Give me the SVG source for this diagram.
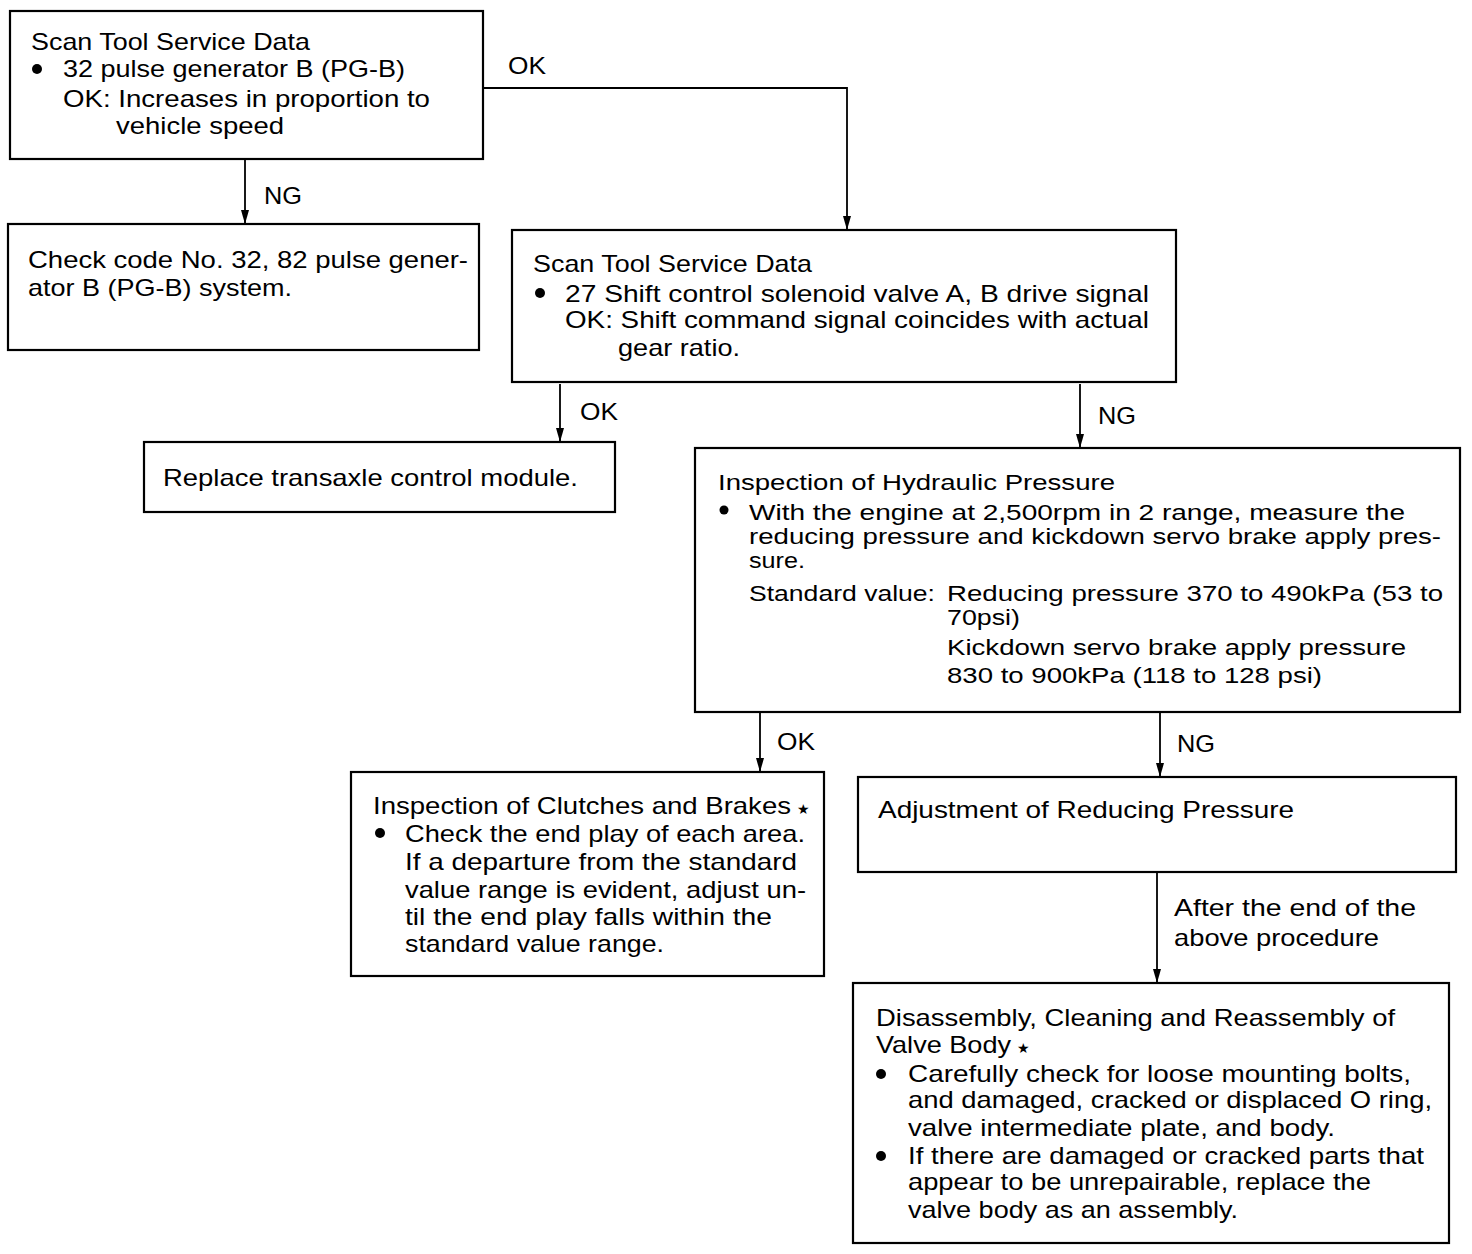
<svg xmlns="http://www.w3.org/2000/svg" width="1472" height="1254" viewBox="0 0 1472 1254">
<defs>
<marker id="ah" viewBox="0 0 14 8" refX="14" refY="4" markerWidth="14" markerHeight="8" markerUnits="userSpaceOnUse" orient="auto">
<path d="M0,0 L14,4 L0,8 Z" fill="#000"/>
</marker>
<style>
.box{fill:#fff;stroke:#000;stroke-width:2.2}
.ln{fill:none;stroke:#000;stroke-width:1.8}
.bul{fill:#000}
text{font-family:"Liberation Sans",Arial,"DejaVu Sans",sans-serif;font-size:24px;fill:#000}
.sm{font-size:21.5px}
.st{font-family:"DejaVu Sans",sans-serif;font-size:14px}
</style>
</defs>
<rect width="1472" height="1254" fill="#fff"/>
<g id="connectors">
<path class="ln" d="M245,160 V224" marker-end="url(#ah)"/>
<path class="ln" d="M483,88 H847 V230" marker-end="url(#ah)"/>
<path class="ln" d="M560,384 V442" marker-end="url(#ah)"/>
<path class="ln" d="M1080,384 V448" marker-end="url(#ah)"/>
<path class="ln" d="M760,712 V772" marker-end="url(#ah)"/>
<path class="ln" d="M1160,712 V777" marker-end="url(#ah)"/>
<path class="ln" d="M1157,872 V983" marker-end="url(#ah)"/>
<text x="264" y="204" textLength="38" lengthAdjust="spacingAndGlyphs">NG</text>
<text x="508" y="74" textLength="38" lengthAdjust="spacingAndGlyphs">OK</text>
<text x="580" y="420" textLength="38" lengthAdjust="spacingAndGlyphs">OK</text>
<text x="1098" y="424" textLength="38" lengthAdjust="spacingAndGlyphs">NG</text>
<text x="777" y="750" textLength="38" lengthAdjust="spacingAndGlyphs">OK</text>
<text x="1177" y="752" textLength="38" lengthAdjust="spacingAndGlyphs">NG</text>
<text x="1174" y="916" textLength="242" lengthAdjust="spacingAndGlyphs">After the end of the</text>
<text x="1174" y="946" textLength="205" lengthAdjust="spacingAndGlyphs">above procedure</text>
</g>
<g id="n1">
<rect class="box" x="10" y="11" width="473" height="148"/>
<text x="31" y="50" textLength="279" lengthAdjust="spacingAndGlyphs">Scan Tool Service Data</text>
<circle class="bul" cx="37" cy="69" r="5"/>
<text x="63" y="77" textLength="342" lengthAdjust="spacingAndGlyphs">32 pulse generator B (PG-B)</text>
<text x="63" y="107" textLength="367" lengthAdjust="spacingAndGlyphs">OK: Increases in proportion to</text>
<text x="116" y="134" textLength="168" lengthAdjust="spacingAndGlyphs">vehicle speed</text>
</g>
<g id="n2">
<rect class="box" x="8" y="224" width="471" height="126"/>
<text x="28" y="268" textLength="440" lengthAdjust="spacingAndGlyphs">Check code No. 32, 82 pulse gener-</text>
<text x="28" y="296" textLength="264" lengthAdjust="spacingAndGlyphs">ator B (PG-B) system.</text>
</g>
<g id="n3">
<rect class="box" x="512" y="230" width="664" height="152"/>
<text x="533" y="272" textLength="279" lengthAdjust="spacingAndGlyphs">Scan Tool Service Data</text>
<circle class="bul" cx="540" cy="293" r="5"/>
<text x="565" y="302" textLength="584" lengthAdjust="spacingAndGlyphs">27  Shift control solenoid valve A, B drive signal</text>
<text x="565" y="328" textLength="584" lengthAdjust="spacingAndGlyphs">OK: Shift command signal coincides with actual</text>
<text x="618" y="356" textLength="122" lengthAdjust="spacingAndGlyphs">gear ratio.</text>
</g>
<g id="n4">
<rect class="box" x="144" y="442" width="471" height="70"/>
<text x="163" y="486" textLength="415" lengthAdjust="spacingAndGlyphs">Replace transaxle control module.</text>
</g>
<g id="n5">
<rect class="box" x="695" y="448" width="765" height="264"/>
<text class="sm" x="718" y="490" textLength="397" lengthAdjust="spacingAndGlyphs">Inspection of Hydraulic Pressure</text>
<circle class="bul" cx="724" cy="510" r="4.5"/>
<text class="sm" x="749" y="520" textLength="656" lengthAdjust="spacingAndGlyphs">With the engine at 2,500rpm in 2 range, measure the</text>
<text class="sm" x="749" y="544" textLength="692" lengthAdjust="spacingAndGlyphs">reducing pressure and kickdown servo brake apply pres-</text>
<text class="sm" x="749" y="568" textLength="56" lengthAdjust="spacingAndGlyphs">sure.</text>
<text class="sm" x="749" y="601" textLength="186" lengthAdjust="spacingAndGlyphs">Standard value:</text>
<text class="sm" x="947" y="601" textLength="496" lengthAdjust="spacingAndGlyphs">Reducing pressure 370 to 490kPa (53 to</text>
<text class="sm" x="947" y="625" textLength="73" lengthAdjust="spacingAndGlyphs">70psi)</text>
<text class="sm" x="947" y="655" textLength="459" lengthAdjust="spacingAndGlyphs">Kickdown servo brake apply pressure</text>
<text class="sm" x="947" y="683" textLength="375" lengthAdjust="spacingAndGlyphs">830 to 900kPa (118 to 128 psi)</text>
</g>
<g id="n6">
<rect class="box" x="351" y="772" width="473" height="204"/>
<text x="373" y="814"><tspan textLength="418" lengthAdjust="spacingAndGlyphs">Inspection of Clutches and Brakes</tspan><tspan class="st" dx="6">★</tspan></text>
<circle class="bul" cx="380" cy="833" r="5"/>
<text x="405" y="842" textLength="400" lengthAdjust="spacingAndGlyphs">Check the end play of each area.</text>
<text x="405" y="870" textLength="392" lengthAdjust="spacingAndGlyphs">If a departure from the standard</text>
<text x="405" y="898" textLength="401" lengthAdjust="spacingAndGlyphs">value range is evident, adjust un-</text>
<text x="405" y="925" textLength="367" lengthAdjust="spacingAndGlyphs">til the end play falls within the</text>
<text x="405" y="952" textLength="259" lengthAdjust="spacingAndGlyphs">standard value range.</text>
</g>
<g id="n7">
<rect class="box" x="858" y="777" width="598" height="95"/>
<text x="878" y="818" textLength="416" lengthAdjust="spacingAndGlyphs">Adjustment of Reducing Pressure</text>
</g>
<g id="n8">
<rect class="box" x="853" y="983" width="596" height="260"/>
<text x="876" y="1026" textLength="519" lengthAdjust="spacingAndGlyphs">Disassembly, Cleaning and Reassembly of</text>
<text x="876" y="1053"><tspan textLength="135" lengthAdjust="spacingAndGlyphs">Valve Body</tspan><tspan class="st" dx="6">★</tspan></text>
<circle class="bul" cx="881" cy="1074" r="5"/>
<text x="908" y="1082" textLength="503" lengthAdjust="spacingAndGlyphs">Carefully check for loose mounting bolts,</text>
<text x="908" y="1108" textLength="524" lengthAdjust="spacingAndGlyphs">and damaged, cracked or displaced O ring,</text>
<text x="908" y="1136" textLength="427" lengthAdjust="spacingAndGlyphs">valve intermediate plate, and body.</text>
<circle class="bul" cx="881" cy="1156" r="5"/>
<text x="908" y="1164" textLength="516" lengthAdjust="spacingAndGlyphs">If there are damaged or cracked parts that</text>
<text x="908" y="1190" textLength="463" lengthAdjust="spacingAndGlyphs">appear to be unrepairable, replace the</text>
<text x="908" y="1218" textLength="330" lengthAdjust="spacingAndGlyphs">valve body as an assembly.</text>
</g>
</svg>
